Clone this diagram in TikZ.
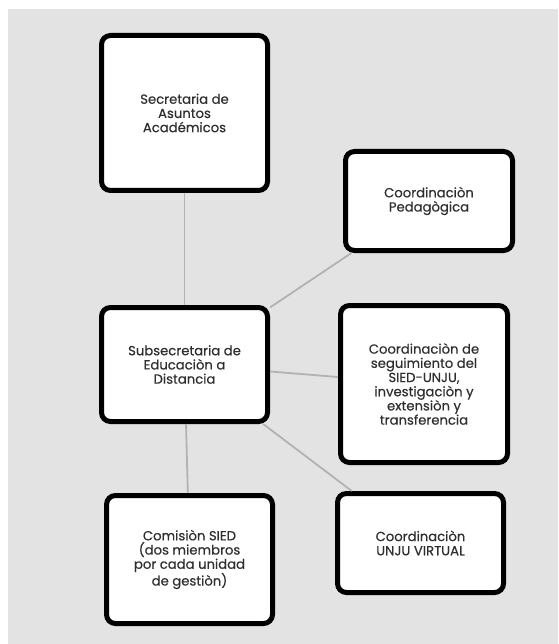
\documentclass[tikz,border=0pt]{standalone}
\usepackage{fontspec}
\setmainfont{Poppins}[UprightFeatures={FakeBold=0.35}]
\begin{document}
\begin{tikzpicture}[x=1pt,y=1pt,
  box/.style={draw=black, line width=5pt, rounded corners=9pt, fill=white,
    align=center, font=\fontsize{13.2}{14.2}\selectfont, text=black!82,
    inner sep=2pt},
  conn/.style={draw=black!30, line width=1.8pt}]
\definecolor{bgc}{HTML}{E3E3E3}
\useasboundingbox (0,0) rectangle (558,-644);
\fill[bgc] (8,-9) rectangle (558,-644);
\node[box, minimum width=166pt, minimum height=155pt] (A) at (184.5,-113) {Secretaria de\\Asuntos\\Académicos};
\node[box, minimum width=167pt, minimum height=99pt] (B) at (429,-201) {Coordinaciòn\\Pedagògica};
\node[box, minimum width=167pt, minimum height=157pt] (C) at (424,-384) {Coordinaciòn de\\seguimiento del\\SIED-UNJU,\\investigaciòn y\\extensiòn y\\transferencia};
\node[box, minimum width=166pt, minimum height=114pt] (D) at (184.5,-364.5) {Subsecretaria de\\Educaciòn a\\Distancia};
\node[box, minimum width=166pt, minimum height=128pt] (E) at (189.5,-559.5) {Comisiòn SIED\\(dos miembros\\por cada unidad\\de gestiòn)};
\node[box, minimum width=166pt, minimum height=99pt] (F) at (420.5,-543) {Coordinaciòn\\UNJU VIRTUAL};
\draw[conn] (A) -- (D);
\draw[conn] (D) -- (B);
\draw[conn] (D) -- (C);
\draw[conn] (D) -- (F);
\draw[conn] (D) -- (E);
\end{tikzpicture}
\end{document}
